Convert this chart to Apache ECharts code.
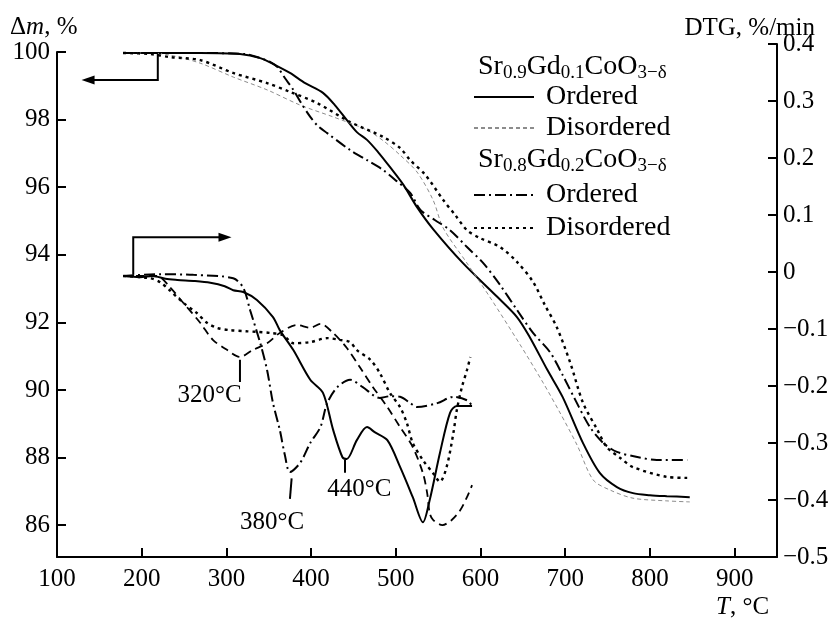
<!DOCTYPE html>
<html lang="en">
<head>
    <meta charset="UTF-8">
    <title>TG / DTG</title>
    <script src="https://cdn.jsdelivr.net/npm/echarts@6/dist/echarts.min.js"></script>
    <style>
        html, body { margin: 0; padding: 0; background: #fff; }
        #chart { width: 838px; height: 621px; }
    </style>
</head>
<body>
<div id="chart"></div>
<script>
    // tick labels
    var xTicks = [100, 200, 300, 400, 500, 600, 700, 800, 900];
    var tgTicks = [86, 88, 90, 92, 94, 96, 98, 100];
    var dtgTicks = [-0.5, -0.4, -0.3, -0.2, -0.1, 0, 0.1, 0.2, 0.3, 0.4];

    // TG curves: [T, dm %]
    var tg09Ordered = [[178,99.97],[269,99.97],[316,99.94],[340,99.82],[357,99.62],[375,99.38],[393,99.08],[414,98.79],[428,98.43],[442,97.99],[454,97.63],[466,97.40],[479,97.04],[493,96.60],[509,96.07],[525,95.41],[544,94.76],[579,93.76],[620,92.75],[643,92.16],[658,91.57],[679,90.59],[697,89.79],[721,88.43],[741,87.54],[761,87.13],[780,86.95],[800,86.89],[820,86.86],[847,86.83]];
    var tg09Disordered = [[178,99.97],[210,99.97],[233,99.91],[269,99.67],[308,99.26],[348,98.88],[387,98.43],[426,98.08],[466,97.69],[487,97.34],[505,96.95],[525,96.45],[544,95.62],[556,94.79],[583,93.79],[611,92.75],[647,91.33],[674,90.21],[694,89.32],[714,88.37],[733,87.34],[753,87.04],[780,86.80],[820,86.72],[847,86.69]];
    var tg08Ordered = [[178,99.97],[269,99.97],[322,99.94],[340,99.82],[352,99.70],[360,99.56],[369,99.23],[379,98.88],[389,98.46],[399,98.08],[408,97.81],[419,97.60],[446,97.10],[466,96.80],[485,96.51],[501,96.18],[517,95.83],[529,95.33],[546,95.03],[564,94.73],[584,94.23],[603,93.76],[623,93.11],[643,92.37],[662,91.69],[682,91.12],[697,90.44],[712,89.70],[729,88.91],[745,88.43],[761,88.17],[785,88.02],[808,87.93],[844,87.93]];
    var tg08Disordered = [[178,99.97],[210,99.94],[233,99.85],[269,99.76],[308,99.38],[348,99.08],[375,98.82],[407,98.49],[446,97.93],[485,97.49],[505,97.16],[517,96.80],[535,96.36],[556,95.62],[570,95.18],[584,94.73],[599,94.50],[623,94.23],[643,93.79],[662,93.20],[676,92.51],[690,91.86],[706,90.80],[721,89.62],[738,88.82],[749,88.31],[765,87.99],[780,87.72],[820,87.43],[844,87.40]];

    // DTG curves: [T, %/min]
    var dtg09Ordered = [[178,-0.007],[198,-0.009],[213,-0.007],[228,-0.012],[242,-0.014],[263,-0.016],[281,-0.019],[298,-0.025],[308,-0.032],[320,-0.035],[336,-0.049],[355,-0.079],[363,-0.102],[379,-0.137],[399,-0.189],[414,-0.212],[426,-0.277],[437,-0.325],[442,-0.328],[454,-0.295],[466,-0.272],[475,-0.281],[490,-0.295],[505,-0.342],[520,-0.395],[532,-0.439],[540,-0.400],[552,-0.318],[564,-0.247],[572,-0.235],[590,-0.235]];
    var dtg09Disordered = [[178,-0.007],[218,-0.007],[233,-0.026],[249,-0.054],[269,-0.089],[284,-0.119],[301,-0.137],[316,-0.149],[331,-0.137],[348,-0.125],[363,-0.107],[383,-0.093],[399,-0.098],[411,-0.091],[426,-0.107],[442,-0.133],[458,-0.168],[473,-0.202],[490,-0.237],[505,-0.272],[520,-0.307],[532,-0.353],[537,-0.388],[540,-0.423],[544,-0.435],[555,-0.444],[566,-0.435],[576,-0.418],[584,-0.395],[590,-0.374]];
    var dtg08Ordered = [[178,-0.007],[222,-0.004],[261,-0.005],[308,-0.011],[320,-0.028],[328,-0.067],[340,-0.125],[348,-0.172],[355,-0.230],[363,-0.277],[369,-0.321],[375,-0.351],[387,-0.335],[399,-0.300],[411,-0.272],[419,-0.230],[431,-0.202],[446,-0.189],[461,-0.202],[481,-0.221],[493,-0.218],[505,-0.219],[517,-0.230],[525,-0.237],[549,-0.230],[568,-0.219],[584,-0.225],[590,-0.235]];
    var dtg08Disordered = [[178,-0.007],[210,-0.011],[222,-0.018],[233,-0.032],[249,-0.054],[265,-0.072],[277,-0.089],[289,-0.098],[304,-0.102],[324,-0.104],[336,-0.105],[352,-0.107],[367,-0.111],[379,-0.125],[399,-0.123],[419,-0.116],[434,-0.119],[446,-0.123],[454,-0.137],[470,-0.154],[481,-0.177],[493,-0.212],[505,-0.237],[513,-0.265],[520,-0.300],[532,-0.330],[544,-0.353],[552,-0.368],[560,-0.342],[568,-0.282],[572,-0.242],[578,-0.202],[584,-0.172],[588,-0.149]];

    var FONT = '"Liberation Serif", "Times New Roman", serif';

    var myChart = echarts.init(document.getElementById('chart'));

    var solid = { color: '#000', width: 2 };
    var grayDash = { color: '#8c8c8c', width: 1, type: [4, 3] };
    var blackDash = { color: '#000', width: 1.8, type: [8, 5] };
    var dashDot = { color: '#000', width: 2, type: [11, 4, 2, 4] };
    var dotted = { color: '#000', width: 2.4, type: [3, 4] };

    function line(name, grid, data, style) {
        return {
            name: name,
            type: 'line',
            xAxisIndex: grid,
            yAxisIndex: grid,
            data: data,
            symbol: 'none',
            showSymbol: false,
            smooth: 0.3,
            silent: true,
            itemStyle: { color: style.color },
            lineStyle: style
        };
    }

    function axisCommon() {
        return {
            axisLine: { show: true, lineStyle: { color: '#000', width: 2 } },
            axisTick: { show: true, inside: true, length: 9, lineStyle: { color: '#000', width: 2 } },
            splitLine: { show: false }
        };
    }

    var xA = axisCommon();
    var yL = axisCommon();
    var yR = axisCommon();

    var legendText = {
        fontFamily: FONT, fontSize: 28, color: '#000', lineHeight: 30, padding: [0, 0, 0, 7]
    };
    function legendName(n) {
        return n.indexOf('disordered') >= 0 ? 'Disordered' : 'Ordered';
    }
    // no marker on the legend line
    var legendItem = { opacity: 0, borderWidth: 0 };

    var option = {
        animation: false,
        backgroundColor: '#fff',
        grid: [
            { left: 57, right: 61, top: 52, bottom: 64 },
            { left: 57, right: 61, top: 44, bottom: 64 }
        ],
        xAxis: [
            {
                type: 'value', gridIndex: 0, min: 100, max: 950,
                axisLine: xA.axisLine,
                axisTick: Object.assign({}, xA.axisTick, { customValues: xTicks }),
                splitLine: xA.splitLine,
                axisLabel: {
                    customValues: xTicks, margin: 10,
                    fontFamily: FONT, fontSize: 25, color: '#000'
                }
            },
            { type: 'value', gridIndex: 1, min: 100, max: 950, show: false }
        ],
        yAxis: [
            {
                type: 'value', gridIndex: 0, position: 'left', min: 85.06, max: 100,
                axisLine: yL.axisLine,
                axisTick: Object.assign({}, yL.axisTick, { customValues: tgTicks }),
                splitLine: yL.splitLine,
                axisLabel: {
                    customValues: tgTicks, margin: 7,
                    fontFamily: FONT, fontSize: 25, color: '#000'
                }
            },
            {
                type: 'value', gridIndex: 1, position: 'right', min: -0.5, max: 0.4,
                axisLine: yR.axisLine,
                axisTick: Object.assign({}, yR.axisTick, { customValues: dtgTicks }),
                splitLine: yR.splitLine,
                axisLabel: {
                    customValues: dtgTicks, margin: 6,
                    fontFamily: FONT, fontSize: 25, color: '#000',
                    formatter: function (v) {
                        if (Math.abs(v) < 1e-9) return '0';
                        return (v < 0 ? '\u2212' : '') + Math.abs(v).toFixed(1);
                    }
                }
            }
        ],
        legend: [
            {
                data: ['Sr0.9 ordered', 'Sr0.9 disordered'],
                orient: 'vertical', left: 473, top: 82, padding: 0,
                itemWidth: 60, itemHeight: 14, itemGap: 1, itemStyle: legendItem,
                selectedMode: false, formatter: legendName, textStyle: legendText
            },
            {
                data: ['Sr0.8 ordered', 'Sr0.8 disordered'],
                orient: 'vertical', left: 473, top: 180, padding: 0,
                itemWidth: 60, itemHeight: 14, itemGap: 3, itemStyle: legendItem,
                selectedMode: false, formatter: legendName, textStyle: legendText
            }
        ],
        series: [
            line('Sr0.9 ordered', 0, tg09Ordered, solid),
            line('Sr0.9 disordered', 0, tg09Disordered, grayDash),
            line('Sr0.8 ordered', 0, tg08Ordered, dashDot),
            line('Sr0.8 disordered', 0, tg08Disordered, dotted),
            line('DTG Sr0.9 ordered', 1, dtg09Ordered, solid),
            line('DTG Sr0.9 dis', 1, dtg09Disordered, blackDash),
            line('DTG Sr0.8 ordered', 1, dtg08Ordered, dashDot),
            line('DTG Sr0.8 dis', 1, dtg08Disordered, dotted)
        ]
    };
    myChart.setOption(option);

    // annotations placed through the axes
    function tgPx(p) { return myChart.convertToPixel({ xAxisIndex: 0, yAxisIndex: 0 }, p); }
    function dtgPx(p) { return myChart.convertToPixel({ xAxisIndex: 1, yAxisIndex: 1 }, p); }

    function polyline(pts) {
        return { type: 'polyline', silent: true, shape: { points: pts },
            style: { stroke: '#000', lineWidth: 2, fill: null } };
    }
    function arrowHead(tip, dir) {
        // dir: -1 pointing left, 1 pointing right
        var L = 13, W = 4.5;
        return { type: 'polygon', silent: true,
            shape: { points: [tip, [tip[0] - dir * L, tip[1] - W], [tip[0] - dir * L, tip[1] + W]] },
            style: { fill: '#000' } };
    }
    function label(text, pos, align) {
        return { type: 'text', silent: true,
            style: { x: pos[0], y: pos[1], text: text, align: align || 'center', verticalAlign: 'middle',
                fontFamily: FONT, fontSize: 25, fill: '#000' } };
    }

    var graphics = [];

    // arrow to left axis (TG)
    var a1 = tgPx([219, 100]), a2 = tgPx([219, 99.17]), a3 = tgPx([129, 99.17]);
    graphics.push(polyline([a1, a2, [a3[0] + 8, a3[1]]]));
    graphics.push(arrowHead(a3, -1));

    // arrow to right axis (DTG)
    var b1 = dtgPx([190, -0.005]), b2 = dtgPx([190, 0.061]), b3 = dtgPx([306, 0.061]);
    graphics.push(polyline([b1, b2, [b3[0] - 8, b3[1]]]));
    graphics.push(arrowHead(b3, 1));

    // peak marks
    graphics.push(polyline([dtgPx([316, -0.154]), dtgPx([316, -0.193])]));
    graphics.push(label('320°C', dtgPx([280, -0.216])));
    graphics.push(polyline([dtgPx([377, -0.362]), dtgPx([375, -0.398])]));
    graphics.push(label('380°C', dtgPx([354, -0.44])));
    graphics.push(polyline([dtgPx([440, -0.33]), dtgPx([440, -0.352])]));
    graphics.push(label('440°C', dtgPx([457, -0.382])));

    // axis names
    var rich = {
        i: { fontFamily: FONT, fontSize: 25, fontStyle: 'italic' },
        s: { fontFamily: FONT, fontSize: 19, padding: [12, 0, 0, 0] }
    };
    graphics.push({ type: 'text', silent: true,
        style: { x: 10, y: 27, text: '\u0394{i|m}, %', rich: rich, verticalAlign: 'middle',
            fontFamily: FONT, fontSize: 25, fill: '#000' } });
    graphics.push({ type: 'text', silent: true,
        style: { x: 815, y: 28, text: 'DTG, %/min', align: 'right', verticalAlign: 'middle',
            fontFamily: FONT, fontSize: 25, fill: '#000' } });
    graphics.push({ type: 'text', silent: true,
        style: { x: 716, y: 607, text: '{i|T}, °C', rich: rich, verticalAlign: 'middle',
            fontFamily: FONT, fontSize: 25, fill: '#000' } });

    // legend group titles
    graphics.push({ type: 'text', silent: true,
        style: { x: 478, y: 67, text: 'Sr{s|0.9}Gd{s|0.1}CoO{s|3\u2212\u03b4}', rich: rich,
            verticalAlign: 'middle', fontFamily: FONT, fontSize: 28, fill: '#000' } });
    graphics.push({ type: 'text', silent: true,
        style: { x: 478, y: 160, text: 'Sr{s|0.8}Gd{s|0.2}CoO{s|3\u2212\u03b4}', rich: rich,
            verticalAlign: 'middle', fontFamily: FONT, fontSize: 28, fill: '#000' } });

    myChart.setOption({ graphic: graphics });

    window.addEventListener('resize', function () { myChart.resize(); });
</script>
</body>
</html>
